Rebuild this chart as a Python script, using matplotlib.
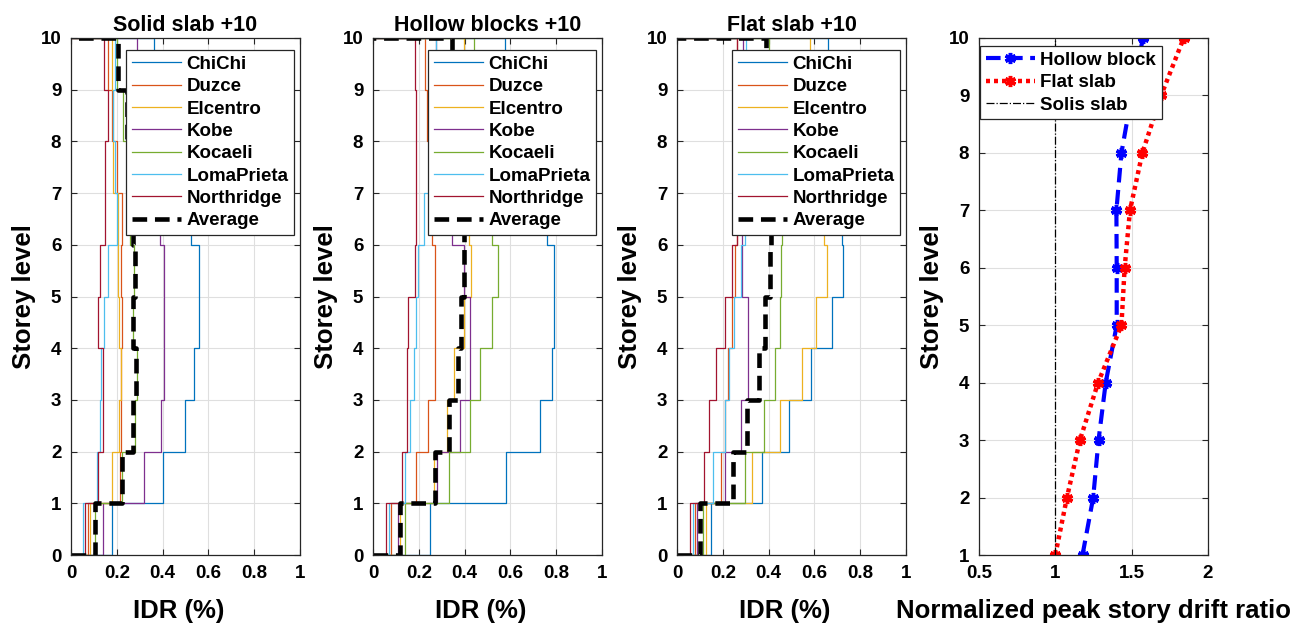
import matplotlib
matplotlib.use('Agg')
import matplotlib.pyplot as plt
import numpy as np

plt.rcParams['font.family'] = ['Liberation Sans', 'DejaVu Sans']
plt.rcParams['font.weight'] = 'bold'
plt.rcParams['axes.labelweight'] = 'bold'
plt.rcParams['axes.titleweight'] = 'bold'

records = ['ChiChi', 'Duzce', 'Elcentro', 'Kobe', 'Kocaeli', 'LomaPrieta', 'Northridge']
rec_colors = ['#0072BD', '#D95319', '#EDB120', '#7E2F8E', '#77AC30', '#4DBEEE', '#A2142F']

# peak inter-storey drift ratio (%) of storeys 1..10, one row per record
solid_idr = [
    [0.180, 0.400, 0.497, 0.537, 0.558, 0.558, 0.526, 0.500, 0.450, 0.363],
    [0.074, 0.215, 0.219, 0.219, 0.222, 0.219, 0.222, 0.203, 0.178, 0.161],
    [0.083, 0.178, 0.210, 0.219, 0.210, 0.207, 0.207, 0.185, 0.185, 0.178],
    [0.139, 0.319, 0.393, 0.407, 0.407, 0.407, 0.389, 0.370, 0.350, 0.287],
    [0.103, 0.222, 0.280, 0.287, 0.272, 0.275, 0.258, 0.250, 0.229, 0.203],
    [0.051, 0.113, 0.128, 0.130, 0.142, 0.163, 0.200, 0.193, 0.185, 0.193],
    [0.062, 0.120, 0.139, 0.139, 0.120, 0.125, 0.149, 0.149, 0.161, 0.142],
]
solid_avg = [0.103, 0.222, 0.272, 0.284, 0.272, 0.280, 0.272, 0.260, 0.243, 0.207]

hollow_idr = [
    [0.250, 0.581, 0.731, 0.782, 0.789, 0.789, 0.760, 0.680, 0.620, 0.577],
    [0.077, 0.189, 0.240, 0.272, 0.272, 0.272, 0.259, 0.259, 0.237, 0.225],
    [0.120, 0.266, 0.323, 0.353, 0.397, 0.426, 0.420, 0.410, 0.400, 0.397],
    [0.109, 0.280, 0.381, 0.422, 0.422, 0.397, 0.344, 0.310, 0.290, 0.275],
    [0.138, 0.330, 0.422, 0.469, 0.520, 0.545, 0.520, 0.490, 0.460, 0.443],
    [0.068, 0.138, 0.160, 0.179, 0.189, 0.196, 0.222, 0.272, 0.272, 0.273],
    [0.058, 0.126, 0.148, 0.150, 0.153, 0.182, 0.189, 0.189, 0.189, 0.182],
]
hollow_avg = [0.120, 0.269, 0.334, 0.370, 0.385, 0.397, 0.397, 0.373, 0.357, 0.345]

flat_idr = [
    [0.147, 0.369, 0.488, 0.587, 0.679, 0.726, 0.720, 0.710, 0.690, 0.661],
    [0.080, 0.190, 0.210, 0.223, 0.238, 0.255, 0.260, 0.260, 0.260, 0.262],
    [0.128, 0.328, 0.449, 0.548, 0.609, 0.653, 0.640, 0.620, 0.600, 0.581],
    [0.089, 0.208, 0.278, 0.308, 0.308, 0.284, 0.284, 0.284, 0.284, 0.288],
    [0.114, 0.299, 0.380, 0.427, 0.449, 0.456, 0.460, 0.450, 0.430, 0.400],
    [0.070, 0.157, 0.208, 0.227, 0.248, 0.278, 0.296, 0.296, 0.296, 0.300],
    [0.058, 0.117, 0.138, 0.169, 0.208, 0.241, 0.264, 0.264, 0.264, 0.263],
]
flat_avg = [0.099, 0.245, 0.306, 0.357, 0.383, 0.405, 0.410, 0.410, 0.400, 0.390]

panel_titles = ['Solid slab +10', 'Hollow blocks +10', 'Flat slab +10']

# average peak drift normalised by the solid slab, storeys 1..10
norm_storeys = [1, 2, 3, 4, 5, 6, 7, 8, 9, 10]
hollow_ratio = [1.178, 1.248, 1.283, 1.330, 1.402, 1.402, 1.400, 1.433, 1.500, 1.574]
flat_ratio = [1.000, 1.076, 1.161, 1.280, 1.433, 1.454, 1.489, 1.570, 1.693, 1.841]
solid_ratio = [1, 1, 1, 1, 1, 1, 1, 1, 1, 1]

AX_COL = '#262626'
GRID_COL = '#DFDFDF'
W, H = 1312, 625
LEG_KW = dict(fontsize=13.5, handletextpad=0.3, labelspacing=0.28, borderpad=0.3,
              borderaxespad=0, fancybox=False, framealpha=1, edgecolor=AX_COL)


def storey_steps(vals):
    """Stair outline: each storey drift drawn as a vertical run between floors."""
    v = np.asarray(vals, dtype=float)
    n = len(v)
    x = np.concatenate([[0.0], np.repeat(v, 2), [0.0]])
    y = np.concatenate([[0.0], np.repeat(np.arange(n + 1), 2)[1:-1], [n]])
    return x, y


def style_axes(ax):
    ax.grid(True, color=GRID_COL, lw=0.8)
    ax.set_axisbelow(True)
    for s in ax.spines.values():
        s.set_color(AX_COL)
        s.set_linewidth(0.9)
    ax.tick_params(direction='in', length=4, width=0.8, color=AX_COL,
                   top=True, right=True, labelsize=13.5, pad=7)
    for lab in ax.get_xticklabels() + ax.get_yticklabels():
        lab.set_fontweight('bold')


fig = plt.figure(figsize=(W / 100, H / 100), dpi=100)

lefts = [71, 373, 677, 979]
ax_w, top, bottom = 229, 38, 555
axes = [fig.add_axes([l / W, (H - bottom) / H, ax_w / W, (bottom - top) / H])
        for l in lefts]

panels = [(solid_idr, solid_avg), (hollow_idr, hollow_avg), (flat_idr, flat_avg)]
for ax, (idr, avg), title in zip(axes[:3], panels, panel_titles):
    for name, col, vals in zip(records, rec_colors, idr):
        x, y = storey_steps(vals)
        ax.plot(x, y, color=col, lw=0.9, label=name)
    x, y = storey_steps(avg)
    ax.plot(x, y, color='black', lw=3.3, ls=(0, (3.2, 1.7)), label='Average')
    ax.set_xlim(0, 1)
    ax.set_ylim(0, 10)
    ax.set_xticks([0, 0.2, 0.4, 0.6, 0.8, 1])
    ax.set_xticklabels(['0', '0.2', '0.4', '0.6', '0.8', '1'])
    ax.set_yticks(range(0, 11))
    style_axes(ax)
    ax.set_title(title, fontsize=15.5, pad=5)
    ax.set_xlabel('IDR (%)', fontsize=18.5, labelpad=8)
    ax.xaxis.set_label_coords(0.47, -0.085)
    ax.set_ylabel('Storey level', fontsize=18.5, labelpad=3)
    leg = ax.legend(loc='upper right', bbox_to_anchor=(1 - 6 / ax_w, 1 - 12 / 517),
                    handlelength=2.6, **LEG_KW)
    leg.get_frame().set_linewidth(0.9)

ax = axes[3]
ax.plot(hollow_ratio, norm_storeys, color='blue', lw=3, ls=(0, (3.5, 1.8)),
        marker=(6, 2, 0), ms=8, mew=2.5, label='Hollow block')
ax.plot(flat_ratio, norm_storeys, color='red', lw=3.2, ls=(0, (0.9, 0.9)),
        marker=(6, 2, 0), ms=8, mew=2.5, label='Flat slab')
ax.plot(solid_ratio, norm_storeys, color='black', lw=0.9, ls='-.', label='Solis slab')
ax.set_xlim(0.5, 2)
ax.set_ylim(1, 10)
ax.set_xticks([0.5, 1, 1.5, 2])
ax.set_xticklabels(['0.5', '1', '1.5', '2'])
ax.set_yticks(range(1, 11))
style_axes(ax)
ax.set_xlabel('Normalized peak story drift ratio', fontsize=18.5, labelpad=8)
ax.xaxis.set_label_coords(0.5, -0.085)
ax.set_ylabel('Storey level', fontsize=18.5, labelpad=3)
leg = ax.legend(loc='upper left', bbox_to_anchor=(0.005, 1 - 8 / 517),
                handlelength=2.6, **LEG_KW)
leg.get_frame().set_linewidth(0.9)

fig.savefig('out.png', dpi=100)
